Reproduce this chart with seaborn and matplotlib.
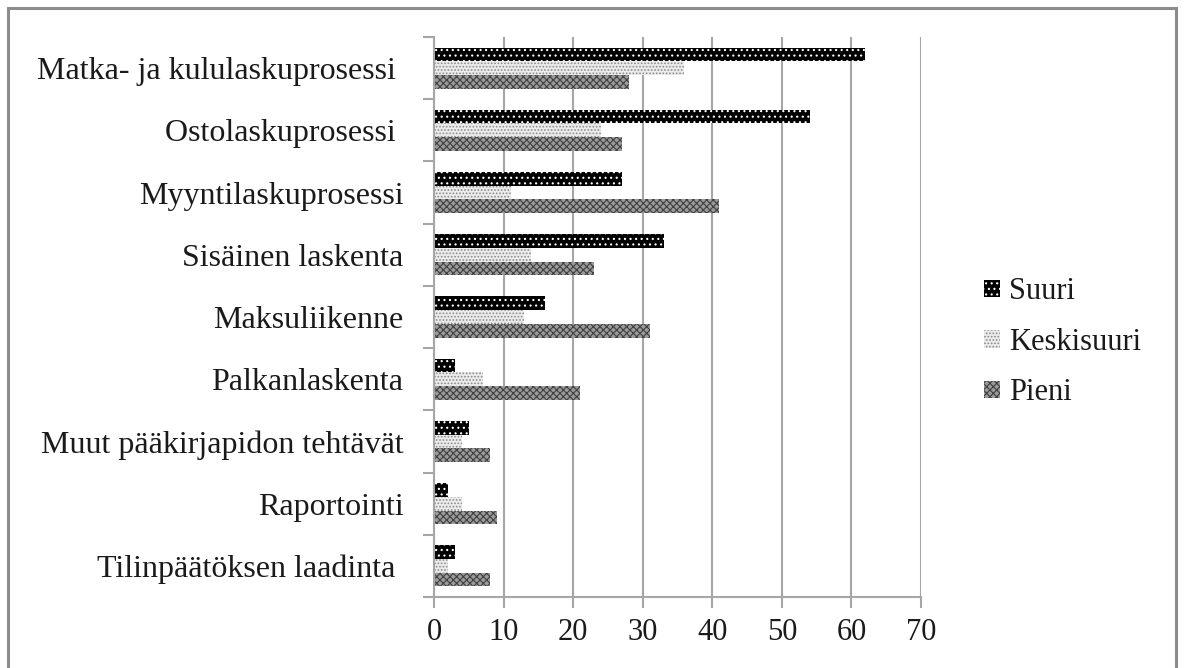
import matplotlib
matplotlib.use("Agg")
import matplotlib.pyplot as plt
from matplotlib.patches import Rectangle, Patch
import seaborn as sns
import pandas as pd
import numpy as np

# Survey shares by process and company size
categories = [
    "Matka- ja kululaskuprosessi ",
    "Ostolaskuprosessi ",
    "Myyntilaskuprosessi",
    "Sisäinen laskenta",
    "Maksuliikenne",
    "Palkanlaskenta",
    "Muut pääkirjapidon tehtävät",
    "Raportointi",
    "Tilinpäätöksen laadinta ",
]
sizes = ["Suuri", "Keskisuuri", "Pieni"]
suuri = [62, 54, 27, 33, 16, 3, 5, 2, 3]
keskisuuri = [36, 24, 11, 14, 13, 7, 4, 4, 2]
pieni = [28, 27, 41, 23, 31, 21, 8, 9, 8]
x_ticks = [0, 10, 20, 30, 40, 50, 60, 70]

df = pd.DataFrame({
    "prosessi": categories * 3,
    "koko": [s for s in sizes for _ in categories],
    "arvo": suuri + keskisuuri + pieni,
})

sns.set_theme(style="white")
plt.rcParams["font.family"] = ["Liberation Serif", "DejaVu Serif"]
plt.rcParams["hatch.linewidth"] = 0.8

fig = plt.figure(figsize=(11.84, 6.68), dpi=100)
ax = fig.add_axes([434 / 1184, 1 - 597 / 668, 487 / 1184, 560 / 668])

sns.barplot(data=df, y="prosessi", x="arvo", hue="koko", order=categories,
            hue_order=sizes, orient="h", width=0.66, ax=ax, legend=False,
            linewidth=0, saturation=1)

# Fill styles: black with white dots, light dotted gray, dark checkered gray
styles = [
    dict(facecolor="#000000", edgecolor="#ffffff", hatch="..."),
    dict(facecolor="#ececec", edgecolor="#8a8a8a", hatch="....."),
    dict(facecolor="#9a9a9a", edgecolor="#404040", hatch="xxxxx"),
]
for cont, st in zip(ax.containers, styles):
    for bar in cont:
        bar.set_facecolor(st["facecolor"])
        bar.set_edgecolor(st["edgecolor"])
        bar.set_hatch(st["hatch"])
        bar.set_linewidth(0)

ax.set_xlim(0, 70)
ax.set_xticks(x_ticks)
ax.set_xlabel("")
ax.set_ylabel("")
ax.grid(axis="x", color="#a6a6a6", linewidth=1.5)
ax.set_axisbelow(True)
for side in ["top", "right"]:
    ax.spines[side].set_visible(False)
for side in ["left", "bottom"]:
    ax.spines[side].set_color("#a6a6a6")
    ax.spines[side].set_linewidth(1.5)

ax.tick_params(axis="x", which="major", length=8, width=1.5, color="#a6a6a6",
               direction="out", labelsize=22, pad=7, bottom=True)
ax.tick_params(axis="y", which="major", length=0, labelsize=23, pad=22)
ax.set_yticks(np.arange(-0.5, len(categories), 1.0), minor=True)
ax.tick_params(axis="y", which="minor", length=8, width=1.5, color="#a6a6a6",
               direction="out", left=True)
for lbl in ax.get_xticklabels() + ax.get_yticklabels():
    lbl.set_color("#1a1a1a")

handles = [Patch(**st, linewidth=0) for st in styles]
ax.legend(handles, sizes, loc="center left", bbox_to_anchor=(1.105, 0.455),
          frameon=False, fontsize=22, handlelength=0.5, handleheight=0.5,
          handletextpad=0.3, labelspacing=0.7, borderaxespad=0,
          labelcolor="#1a1a1a")

# Outer frame around the chart
fig.patches.append(Rectangle((8 / 1184, -0.05), 1168 / 1184, 1.05 - 8 / 668,
                             transform=fig.transFigure, fill=False,
                             edgecolor="#8c8c8c", linewidth=2.2))

fig.savefig("out.png", dpi=100)
